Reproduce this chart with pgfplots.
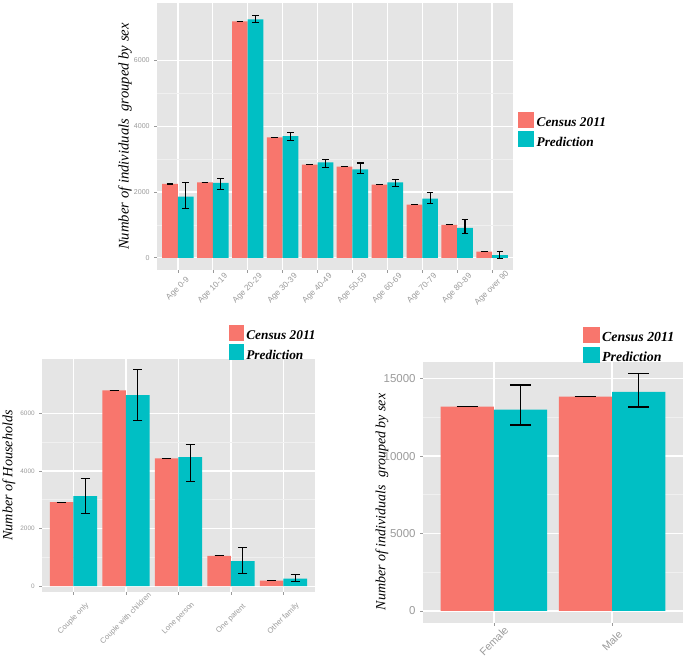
\documentclass[border=0pt]{standalone}
\usepackage{pgfplots}
\pgfplotsset{compat=1.18}
\usepackage{fontspec}
\setmainfont{Liberation Serif}
\newfontfamily\ticksf{Liberation Sans}
\definecolor{cen}{HTML}{F8766D}
\definecolor{pred}{HTML}{00BFC4}
\definecolor{ggbg}{HTML}{E5E5E5}
\definecolor{ggminor}{HTML}{F0F0F0}
\definecolor{ggtick}{HTML}{9A9A9A}
\pgfplotsset{
  ggstyle/.style={
    scale only axis,
    axis background/.style={fill=ggbg},
    axis line style={draw=none},
    tick align=outside,
    major tick length=2pt,
    minor tick length=0pt,
    tick style={ggtick, line width=0.5pt},
    tick pos=left,
    ymajorgrids, xmajorgrids, yminorgrids,
    minor y tick num=1,
    major grid style={white, line width=0.9pt},
    minor grid style={ggminor, line width=0.5pt},
    ybar=0pt, bar width=0.45,
    xtick=data,
    xmin=-0.6,
    scaled y ticks=false,
    ticklabel style={text=ggtick},
    legend cell align=left,
    legend style={draw=none, fill=none, inner sep=0pt, outer sep=0pt, row sep=0pt,
      /tikz/every even column/.append style={column sep=2pt}},
    /pgf/number format/1000 sep={},
    /pgf/number format/assume math mode=true,
  },
  cenplot/.style={fill=cen, draw=none, bar shift=-0.225,
    legend image code/.code={\path[fill=cen] (0pt,-3.5pt) rectangle (#1,8.5pt);}},
  predplot/.style={fill=pred, draw=none, bar shift=0.225,
    legend image code/.code={\path[fill=pred] (0pt,-3.5pt) rectangle (#1,8.5pt);}},
}
\begin{document}
\begin{tikzpicture}
\useasboundingbox (0pt,0pt) rectangle (515.25pt,494.25pt);
% ---------------- top panel ----------------
\begin{axis}[ggstyle,
  at={(117.75pt,291.75pt)}, anchor=south west,
  width=267pt, height=200.25pt,
  xmax=9.6, ymin=-370, ymax=7750,
  ytick={0,2000,4000,6000},
  xticklabels={Age 0-9,Age 10-19,Age 20-29,Age 30-39,Age 40-49,Age 50-59,Age 60-69,Age 70-79,Age 80-89,Age over 90},
  yticklabel style={font=\ticksf\fontsize{5.3}{6}\selectfont},
  xticklabel style={font=\ticksf\fontsize{6.2}{7}\selectfont, yshift=-12pt, rotate=45, anchor=center},
  ylabel={Number of individuals\ \ grouped by sex},
  ylabel style={at={(axis description cs:-0.09,0.5)}, anchor=center, font=\itshape\fontsize{11}{13}\selectfont},
  legend style={at={(axis description cs:1.014,0.592)}, anchor=north west, font=\bfseries\itshape\fontsize{10}{11.6}\selectfont},
  error bars/y dir=both, error bars/y explicit,
  error bars/error bar style={black, line width=0.8pt},
  error bars/error mark options={black, line width=0.8pt, mark size=2.5pt, rotate=90},
]
\addplot[cenplot=12pt] coordinates {
 (0,2246) +- (0,0) (1,2297) +- (0,0) (2,7194) +- (0,0) (3,3663) +- (0,0) (4,2833) +- (0,0)
 (5,2772) +- (0,0) (6,2226) +- (0,0) (7,1619) +- (0,0) (8,1002) +- (0,0) (9,192) +- (0,0)};
\addplot[predplot=12pt] coordinates {
 (0,1862) += (0,425) -= (0,375)
 (1,2277) += (0,131) -= (0,193)
 (2,7255) += (0,121) -= (0,112)
 (3,3703) += (0,101) -= (0,121)
 (4,2904) += (0,91) -= (0,152)
 (5,2691) += (0,193) -= (0,131)
 (6,2297) += (0,91) -= (0,142)
 (7,1801) += (0,192) -= (0,162)
 (8,911) += (0,263) -= (0,183)
 (9,85) += (0,117) -= (0,95)};
\legend{Census 2011,Prediction}
\end{axis}
% ---------------- bottom-left panel ----------------
\begin{axis}[ggstyle,
  at={(31.5pt,50.25pt)}, anchor=south west,
  width=204.75pt, height=174.75pt,
  xmax=4.6, ymin=-200, ymax=7890,
  ytick={0,2000,4000,6000},
  xticklabels={Couple only,Couple with children,Lone person,One parent,Other family},
  yticklabel style={font=\ticksf\fontsize{4.8}{5.5}\selectfont},
  xticklabel style={font=\ticksf\fontsize{5.7}{6.5}\selectfont, yshift=-18pt, rotate=45, anchor=center},
  ylabel={Number of Households},
  ylabel style={at={(axis description cs:-0.121,0.5)}, anchor=center, font=\itshape\fontsize{10.6}{12}\selectfont},
  legend style={at={(axis description cs:0.685,1.146)}, anchor=north west, font=\bfseries\itshape\fontsize{10}{12}\selectfont},
  error bars/y dir=both, error bars/y explicit,
  error bars/error bar style={black, line width=0.9pt},
  error bars/error mark options={black, line width=0.9pt, mark size=3.5pt, rotate=90},
]
\addplot[cenplot=11pt] coordinates {
 (0,2919) +- (0,0) (1,6799) +- (0,0) (2,4436) +- (0,0) (3,1054) +- (0,0) (4,197) +- (0,0)};
\addplot[predplot=11pt] coordinates {
 (0,3127) += (0,603) -= (0,590)
 (1,6637) += (0,892) -= (0,869)
 (2,4483) += (0,451) -= (0,858)
 (3,869) += (0,486) -= (0,429)
 (4,266) += (0,151) -= (0,92)};
\legend{Census 2011,Prediction}
\end{axis}
% ---------------- bottom-right panel ----------------
\begin{axis}[ggstyle,
  at={(317.25pt,27pt)}, anchor=south west,
  width=195pt, height=195.75pt,
  xmax=1.6, ymin=-775, ymax=16075,
  ytick={0,5000,10000,15000},
  xticklabels={Female,Male},
  yticklabel style={font=\ticksf\fontsize{8.6}{10}\selectfont},
  xticklabel style={font=\ticksf\fontsize{8}{9}\selectfont, yshift=-11.5pt, rotate=45, anchor=center},
  ylabel={Number of individuals\ \ grouped by sex},
  ylabel style={at={(axis description cs:-0.158,0.464)}, anchor=center, font=\itshape\fontsize{10.5}{12}\selectfont},
  legend style={at={(axis description cs:0.615,1.134)}, anchor=north west, font=\bfseries\itshape\fontsize{10.4}{12.4}\selectfont},
  error bars/y dir=both, error bars/y explicit,
  error bars/error bar style={black, line width=1.1pt},
  error bars/error mark options={black, line width=1.1pt, mark size=7.9pt, rotate=90},
]
\addplot[cenplot=12.5pt] coordinates {(0,13192) +- (0,0) (1,13838) +- (0,0)};
\addplot[predplot=12.5pt] coordinates {
 (0,12999) += (0,1592) -= (0,991)
 (1,14139) += (0,1183) -= (0,969)};
\legend{Census 2011,Prediction}
\end{axis}
\end{tikzpicture}
\end{document}
